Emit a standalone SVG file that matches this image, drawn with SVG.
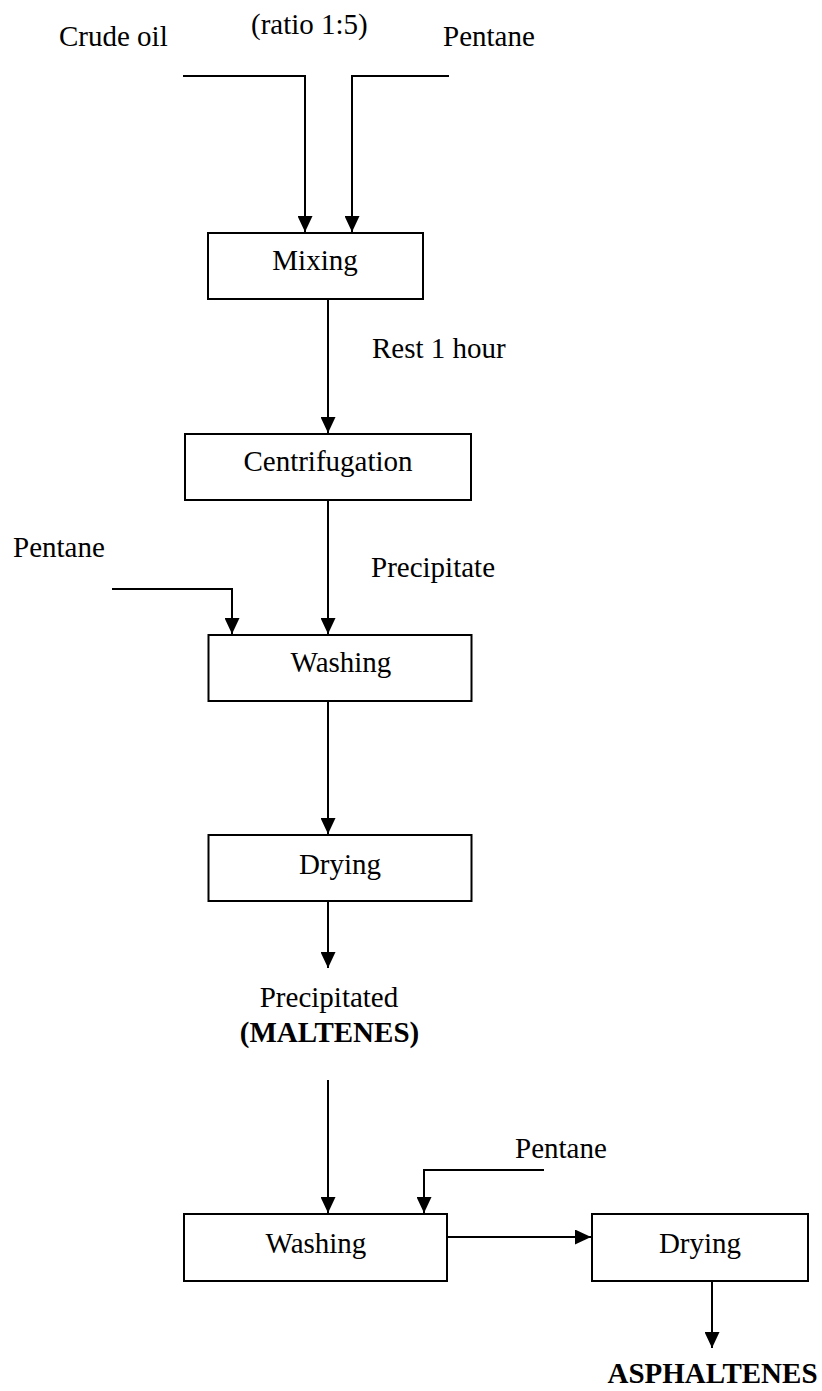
<svg xmlns="http://www.w3.org/2000/svg" width="822" height="1391" viewBox="0 0 822 1391">
  <style>
    text { font-family: 'Liberation Serif', 'DejaVu Serif', serif; font-size: 29px; fill: #000; }
    .c { text-anchor: middle; }
    .b { font-weight: bold; }
    .box { fill: #fff; stroke: #000; stroke-width: 2; }
    .flow { fill: none; stroke: #000; stroke-width: 2; }
  </style>
  <defs>
    <marker id="arrow" markerUnits="userSpaceOnUse" markerWidth="16" markerHeight="15" refX="16" refY="7.5" orient="auto">
      <path d="M0,0 L16,7.5 L0,15 Z" fill="#000"/>
    </marker>
  </defs>
  <rect width="822" height="1391" fill="#fff"/>

  <!-- feed and stream labels -->
  <g id="labels" font-family="Liberation Serif, serif">
    <text x="59" y="46">Crude oil</text>
    <text x="251" y="34">(ratio 1:5)</text>
    <text x="443" y="46">Pentane</text>
    <text x="372" y="358">Rest 1 hour</text>
    <text x="13" y="557">Pentane</text>
    <text x="371" y="577">Precipitate</text>
    <text x="515" y="1158">Pentane</text>
  </g>

  <!-- connectors -->
  <g id="connectors">
    <path class="flow" d="M183,76 H305 V232" marker-end="url(#arrow)"/>
    <path class="flow" d="M449,76 H352 V232" marker-end="url(#arrow)"/>
    <path class="flow" d="M328,299 V433" marker-end="url(#arrow)"/>
    <path class="flow" d="M328,500 V634" marker-end="url(#arrow)"/>
    <path class="flow" d="M112,589 H232 V634" marker-end="url(#arrow)"/>
    <path class="flow" d="M328,702 V834" marker-end="url(#arrow)"/>
    <path class="flow" d="M328,902 V968" marker-end="url(#arrow)"/>
    <path class="flow" d="M328,1080 V1213" marker-end="url(#arrow)"/>
    <path class="flow" d="M544,1170 H424 V1213" marker-end="url(#arrow)"/>
    <path class="flow" d="M448,1237 H591" marker-end="url(#arrow)"/>
    <path class="flow" d="M712,1282 V1348" marker-end="url(#arrow)"/>
  </g>

  <g id="mixing">
    <rect class="box" x="208" y="233" width="215" height="66"/>
    <text class="c" x="315" y="270">Mixing</text>
  </g>
  <g id="centrifugation">
    <rect class="box" x="185" y="434" width="286" height="66"/>
    <text class="c" x="328" y="471">Centrifugation</text>
  </g>
  <g id="washing-1">
    <rect class="box" x="208.5" y="635" width="263" height="66"/>
    <text class="c" x="341" y="672">Washing</text>
  </g>
  <g id="drying-1">
    <rect class="box" x="208.5" y="835" width="263" height="66"/>
    <text class="c" x="340" y="874">Drying</text>
  </g>
  <g id="maltenes">
    <text class="c" x="329" y="1007">Precipitated</text>
    <text class="c b" x="329.5" y="1042">(MALTENES)</text>
  </g>
  <g id="washing-2">
    <rect class="box" x="184" y="1214" width="263" height="67"/>
    <text class="c" x="316" y="1253">Washing</text>
  </g>
  <g id="drying-2">
    <rect class="box" x="592" y="1214" width="216" height="67"/>
    <text class="c" x="700" y="1253">Drying</text>
  </g>
  <g id="asphaltenes">
    <text class="c b" x="712.5" y="1383">ASPHALTENES</text>
  </g>
</svg>
